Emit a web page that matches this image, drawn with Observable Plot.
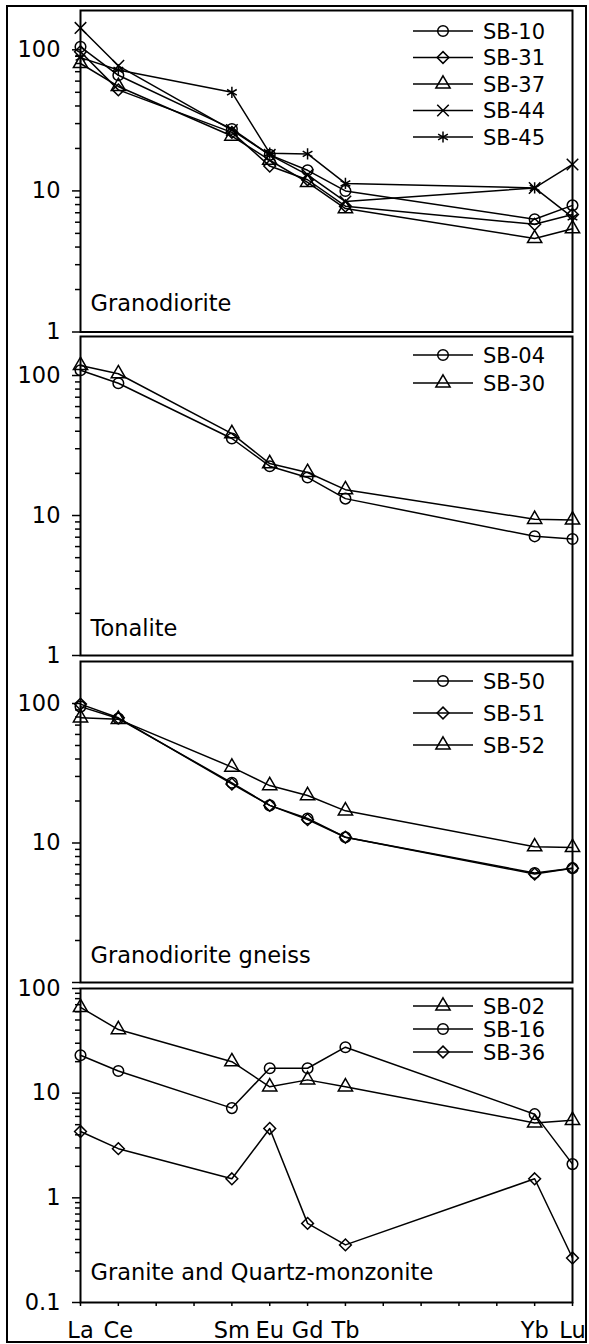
<!DOCTYPE html>
<html><head><meta charset="utf-8">
<script src="https://cdn.jsdelivr.net/npm/d3@7"></script>
<script src="https://cdn.jsdelivr.net/npm/@observablehq/plot@0.6"></script>
<style>
html,body{margin:0;padding:0;background:#fff;}
#fig{position:relative;width:589px;height:1344px;overflow:hidden;font-family:"DejaVu Sans",sans-serif;background:#fff;}
#border{position:absolute;left:6px;top:5px;width:577px;height:1334px;border:2px solid #000;}
#fig svg{position:absolute;left:0;overflow:visible;}
</style></head><body><div id="fig"><div id="border"></div></div>
<script>
// REE sequence on the x axis (Pm omitted) and the plotted elements
const ree = ["La","Ce","Pr","Nd","Sm","Eu","Gd","Tb","Dy","Ho","Er","Tm","Yb","Lu"];
const elements = ["La","Ce","Sm","Eu","Gd","Tb","Yb","Lu"];

// Panel 1: Granodiorite
const granodioriteNames = ["SB-10","SB-31","SB-37","SB-44","SB-45"];
const granodioriteSymbols = ["circle","diamond2","triangle","times","asterisk"];
const sb10 = [105, 66, 27.5, 18, 14, 10, 6.3, 7.9];
const sb31 = [97, 52, 26, 15, 12, 7.8, 5.8, 6.8];
const sb37 = [80, 55, 24.5, 16.5, 11.5, 7.5, 4.6, 5.4];
const sb44 = [143, 77, 27, 18, 13, 8.4, 10.5, 15.4];
const sb45 = [88, 72, 50, 18.5, 18.3, 11.3, 10.5, 6.5];

// Panel 2: Tonalite
const tonaliteNames = ["SB-04","SB-30"];
const tonaliteSymbols = ["circle","triangle"];
const sb04 = [109, 88, 35.5, 22.5, 18.7, 13.2, 7.1, 6.8];
const sb30 = [118, 103, 38.5, 23.5, 20.3, 15.3, 9.4, 9.3];

// Panel 3: Granodiorite gneiss
const gneissNames = ["SB-50","SB-51","SB-52"];
const gneissSymbols = ["circle","diamond2","triangle"];
const sb50 = [95, 78, 27, 18.6, 15, 11, 6.1, 6.6];
const sb51 = [99, 79, 26.5, 18.6, 14.7, 11, 6.0, 6.6];
const sb52 = [79, 77, 35, 25.8, 21.9, 17, 9.4, 9.3];

// Panel 4: Granite and Quartz-monzonite
const graniteNames = ["SB-02","SB-16","SB-36"];
const graniteSymbols = ["triangle","circle","diamond2"];
const sb02 = [66, 40.5, 20, 11.5, 13.4, 11.5, 5.2, 5.5];
const sb16 = [23, 16.3, 7.2, 17.3, 17.3, 27.5, 6.3, 2.1];
const sb36 = [4.3, 2.95, 1.52, 4.6, 0.57, 0.355, 1.52, 0.266];

const majorTicks123 = [1, 10, 100];
const minorTicks123 = [2,3,4,5,6,7,8,9,20,30,40,50,60,70,80,90];
const majorTicks4 = [0.1, 1, 10, 100];
const minorTicks4 = [0.2,0.3,0.4,0.5,0.6,0.7,0.8,0.9,2,3,4,5,6,7,8,9,20,30,40,50,60,70,80,90];

const FONT = "DejaVu Sans";
const symbolMap = {circle: d3.symbolCircle, diamond2: d3.symbolDiamond2, triangle: d3.symbolTriangle, times: d3.symbolTimes, asterisk: d3.symbolAsterisk};
const R = 5.3;

function rows(names, series) {
  return names.flatMap((n, i) => elements.map((e, j) => ({sample: n, element: e, value: series[i][j]})));
}

function legendMark(names, symbols, mt, first, step) {
  return () => {
    const g = d3.create("svg:g").attr("text-anchor", "start");
    names.forEach((n, i) => {
      const y = mt + first + i * step;
      g.append("line").attr("x1", 413).attr("x2", 473).attr("y1", y).attr("y2", y)
        .attr("stroke", "black").attr("stroke-width", 1.5);
      g.append("path").attr("transform", `translate(443,${y})`)
        .attr("d", d3.symbol(symbolMap[symbols[i]], Math.PI * R * R)())
        .attr("fill", "none").attr("stroke", "black").attr("stroke-width", 1.5);
      g.append("text").attr("x", 483).attr("y", y).attr("dy", "0.36em").attr("text-anchor", "start")
        .attr("font-family", FONT).attr("font-size", 21).attr("fill", "black").text(n);
    });
    return g.node();
  };
}

function panel({names, symbols, series, domain, top, bottom, title, titleDy, legend, majors, minors, majorLabels, xAxis}) {
  const mt = 6, mb = xAxis ? 42 : 6;
  const data = rows(names, series);
  const marks = [
    Plot.axisY(minors, {tickSize: 5, tickFormat: () => "", label: null, strokeWidth: 1.5}),
    Plot.axisY(majors, {tickSize: 8, tickPadding: 12, fontSize: 22.5, label: null, strokeWidth: 1.5,
      tickFormat: d => majorLabels.includes(d) ? String(d) : ""}),
    Plot.frame({stroke: "black", strokeWidth: 2}),
    Plot.text([title], {frameAnchor: "bottom-left", dx: 10, dy: titleDy, text: d => d, fontSize: 22.5, textAnchor: "start", fill: "black"})
  ];
  if (xAxis) {
    marks.push(Plot.axisX(ree, {tickSize: 4, tickFormat: () => "", label: null, strokeWidth: 1.5}));
    marks.push(Plot.axisX(elements, {tickSize: 0, tickPadding: 20, fontSize: 22.5, label: null}));
  }
  marks.push(Plot.line(data, {x: "element", y: "value", z: "sample", stroke: "black", strokeWidth: 1.5}));
  names.forEach((n, i) => {
    marks.push(Plot.dot(data.filter(d => d.sample === n), {x: "element", y: "value", symbol: symbols[i], r: R,
      stroke: "black", strokeWidth: 1.5, fill: "none"}));
  });
  marks.push(legendMark(names, symbols, mt, legend[0], legend[1]));
  const svg = Plot.plot({
    width: 589,
    height: mt + (bottom - top) + mb,
    marginLeft: 80, marginRight: 17, marginTop: mt, marginBottom: mb,
    style: {background: "transparent", overflow: "visible", fontFamily: FONT, color: "black"},
    x: {type: "point", domain: ree, padding: 0, round: false, axis: xAxis ? undefined : null},
    y: {type: "log", domain},
    marks
  });
  svg.style.top = (top - mt) + "px";
  document.getElementById("fig").appendChild(svg);
}

panel({names: granodioriteNames, symbols: granodioriteSymbols, series: [sb10, sb31, sb37, sb44, sb45],
  domain: [1, 190], top: 10, bottom: 331.5, title: "Granodiorite", titleDy: -20.7, legend: [21, 26.5],
  majors: majorTicks123, minors: minorTicks123, majorLabels: [1, 10, 100]});
panel({names: tonaliteNames, symbols: tonaliteSymbols, series: [sb04, sb30],
  domain: [1, 190], top: 336, bottom: 655, title: "Tonalite", titleDy: -19.2, legend: [19, 28],
  majors: majorTicks123, minors: minorTicks123, majorLabels: [1, 10, 100]});
panel({names: gneissNames, symbols: gneissSymbols, series: [sb50, sb51, sb52],
  domain: [1, 200], top: 661, bottom: 982, title: "Granodiorite gneiss", titleDy: -19.2, legend: [20, 32],
  majors: majorTicks123, minors: minorTicks123, majorLabels: [10, 100]});
panel({names: graniteNames, symbols: graniteSymbols, series: [sb02, sb16, sb36],
  domain: [0.1, 100], top: 988, bottom: 1302, title: "Granite and Quartz-monzonite", titleDy: -22.2, legend: [18, 23],
  majors: majorTicks4, minors: minorTicks4, majorLabels: [0.1, 1, 10, 100], xAxis: true});
</script></body></html>
